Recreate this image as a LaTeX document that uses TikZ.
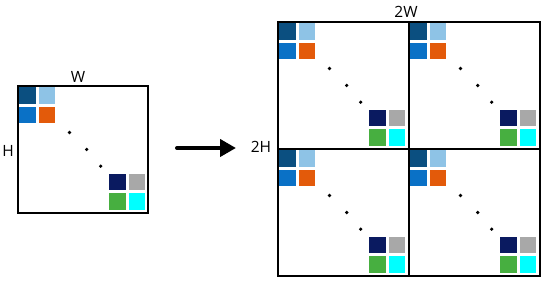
\documentclass[tikz,border=0pt]{standalone}
\usepackage{fontspec}
\setmainfont{Open Sans}
\usetikzlibrary{arrows.meta}
\definecolor{cA}{HTML}{0B4F80}
\definecolor{cB}{HTML}{8EC3E6}
\definecolor{cC}{HTML}{0A71C6}
\definecolor{cD}{HTML}{E35A0A}
\definecolor{cE}{HTML}{0A1A60}
\definecolor{cF}{HTML}{A8A8A8}
\definecolor{cG}{HTML}{47AF40}
\definecolor{cH}{HTML}{00FFFF}
\tikzset{
  sq/.style={fill=#1, draw=white, line width=0.6pt},
  frame/.style={draw=black, line width=2pt},
  lbl/.style={font=\fontsize{15.5}{16}\selectfont, inner sep=0pt},
  dotm/.style={fill=black},
  blk/.pic={
    \fill[sq=cA] (1.5,1.5) rectangle ++(17.5,17.5);
    \fill[sq=cB] (21,1.5) rectangle ++(17.5,17.5);
    \fill[sq=cC] (1.5,21) rectangle ++(17.5,17.5);
    \fill[sq=cD] (21,21) rectangle ++(17.5,17.5);
    \fill[sq=cE] (91.5,88) rectangle ++(17.5,17.5);
    \fill[sq=cF] (111,88) rectangle ++(17.5,17.5);
    \fill[sq=cG] (91.5,107.5) rectangle ++(17.5,17.5);
    \fill[sq=cH] (111,107.5) rectangle ++(17.5,17.5);
    \fill[dotm] (52.5,47.5) circle (1.8);
    \fill[dotm] (69.7,64.5) circle (1.8);
    \fill[dotm] (83.7,81.2) circle (1.8);
  }
}
\begin{document}
\begin{tikzpicture}[x=1pt,y=-1pt]
\useasboundingbox (0,0) rectangle (550,286);
% left block
\pic at (17,85) {blk};
\node[frame, minimum width=130pt, minimum height=127pt, inner sep=0pt, anchor=north west] (L) at (17,85) {};
\node[lbl] (W) at (78,77) {W};
\node[lbl] (H) at (8,151) {H};
% right blocks
\pic at (277,21) {blk};
\pic at (408,21) {blk};
\pic at (277,148) {blk};
\pic at (408,148) {blk};
\node[frame, minimum width=131pt, minimum height=127pt, inner sep=0pt, anchor=north west] (R1) at (277,21) {};
\node[frame, minimum width=131pt, minimum height=127pt, inner sep=0pt, anchor=north west] (R2) at (408,21) {};
\node[frame, minimum width=131pt, minimum height=127pt, inner sep=0pt, anchor=north west] (R3) at (277,148) {};
\node[frame, minimum width=131pt, minimum height=127pt, inner sep=0pt, anchor=north west] (R4) at (408,148) {};
\node[lbl] (W2) at (406,12) {2W};
\node[lbl] (H2) at (261,147) {2H};
% arrow
\coordinate (a1) at (177,148);
\coordinate (a2) at (236,148);
\draw[line width=4pt, line cap=round, -{Triangle[length=16pt,width=17pt]}] (a1) -- (a2);
\end{tikzpicture}
\end{document}
